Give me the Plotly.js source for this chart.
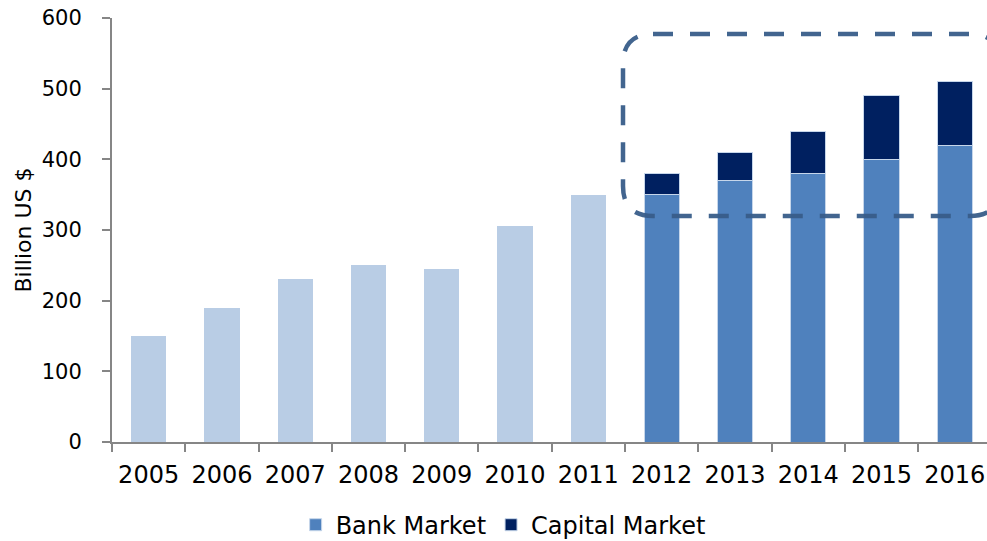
<!DOCTYPE html>
<html>
<head>
<meta charset="utf-8">
<script src="https://cdn.plot.ly/plotly-3.0.1.min.js"></script>
<style>html,body{margin:0;padding:0;background:#fff;}#chart{width:987px;height:541px;}</style>
</head>
<body>
<div id="chart"></div>
<script>
const years = ['2005','2006','2007','2008','2009','2010','2011','2012','2013','2014','2015','2016'];
const historical = [150, 190, 230, 250, 245, 305, 350, null, null, null, null, null];
const bankMarket = [null, null, null, null, null, null, null, 350, 370, 380, 400, 420];
const capitalMarket = [null, null, null, null, null, null, null, 30, 40, 60, 90, 90];
const yTicks = [0, 100, 200, 300, 400, 500, 600];

const W = 987, H = 541;
const M = {l: 112, r: 0, t: 18, b: 99, autoexpand: false};
const pw = W - M.l - M.r, ph = H - M.t - M.b;
function px(x){ return (x - M.l) / pw; }
function py(y){ return (H - M.b - y) / ph; }

// rounded dashed callout box (pixel geometry)
const box = {l: 623, r: 1000, t: 34, b: 216, rad: 30};
const bp = [
  'M', px(box.l + box.rad), py(box.t),
  'L', px(box.r - box.rad), py(box.t),
  'Q', px(box.r), py(box.t), px(box.r), py(box.t + box.rad),
  'L', px(box.r), py(box.b - box.rad),
  'Q', px(box.r), py(box.b), px(box.r - box.rad), py(box.b),
  'L', px(box.l + box.rad), py(box.b),
  'Q', px(box.l), py(box.b), px(box.l), py(box.b - box.rad),
  'L', px(box.l), py(box.t + box.rad),
  'Q', px(box.l), py(box.t), px(box.l + box.rad), py(box.t), 'Z'
];
let path = '';
for (let i = 0; i < bp.length; i++) {
  const v = bp[i];
  path += (typeof v === 'number') ? v.toFixed(5) + ((typeof bp[i+1] === 'number') ? ',' : ' ') : v;
}

const fam = '"DejaVu Sans", Verdana, sans-serif';
const font = {family: fam, size: 21, color: '#000'};
const xfont = {family: fam, size: 24, color: '#000'};
const lfont = {family: fam, size: 24, color: '#000'};

const traces = [
  {type: 'bar', x: years, y: historical, name: 'Historical', showlegend: false,
   marker: {color: '#b9cde5', line: {color: '#ffffff', width: 0}}},
  {type: 'bar', x: years, y: bankMarket, name: 'Bank Market',
   marker: {color: '#4f81bd', line: {color: '#c6d6ea', width: 1}}},
  {type: 'bar', x: years, y: capitalMarket, name: 'Capital Market',
   marker: {color: '#002060', line: {color: '#c6d6ea', width: 1}}}
];

const layout = {
  width: W, height: H,
  margin: M,
  paper_bgcolor: '#fff', plot_bgcolor: '#fff',
  barmode: 'stack', bargap: 0.52,
  font: font,
  showlegend: true,
  legend: {orientation: 'h', x: 0.447, xanchor: 'center', y: -0.196, yanchor: 'middle',
           font: lfont, traceorder: 'normal', bgcolor: 'rgba(0,0,0,0)'},
  xaxis: {type: 'category', range: [-0.5, 11.44], showgrid: false, zeroline: false, automargin: false,
          showline: true, linecolor: '#868686', linewidth: 2,
          ticks: 'outside', tickson: 'boundaries', ticklen: 8, tickcolor: '#868686', tickwidth: 2,
          tickfont: xfont, ticklabelstandoff: 10},
  yaxis: {range: [0, 600], tickvals: yTicks, ticktext: yTicks.map(String), showgrid: false, zeroline: false,
          automargin: false,
          showline: true, linecolor: '#868686', linewidth: 2,
          ticks: 'outside', ticklen: 8, tickcolor: '#868686', tickwidth: 2,
          tickfont: font, ticklabelstandoff: 16,
          title: {text: 'Billion US $', font: {family: fam, size: 22, color: '#000'}, standoff: 4}},
  shapes: [{type: 'path', xref: 'paper', yref: 'paper', path: path, layer: 'above',
            line: {color: '#385d8a', width: 4.5, dash: '20px,17px'}, opacity: 0.95}]
};

Plotly.newPlot('chart', traces, layout, {displayModeBar: false, staticPlot: true});
</script>
</body>
</html>
